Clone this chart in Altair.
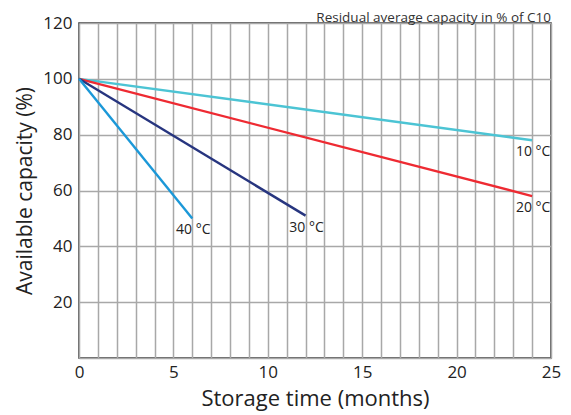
import altair as alt
import pandas as pd

series = ["10 °C", "20 °C", "30 °C", "40 °C"]
start_month = [0, 0, 0, 0]
end_month = [24, 24, 12, 6]
start_cap = [100, 100, 100, 100]
end_cap = [78, 58, 51, 50]
colors = ["#4cc4d4", "#ee2a32", "#27357f", "#1b98d8"]
x_ticks = list(range(0, 26))
y_ticks = [0, 20, 40, 60, 80, 100, 120]

rows = []
for s, m0, m1, c0, c1 in zip(series, start_month, end_month, start_cap, end_cap):
    rows.append({"series": s, "month": m0, "cap": c0})
    rows.append({"series": s, "month": m1, "cap": c1})
df = pd.DataFrame(rows)
ends = pd.DataFrame({"series": series, "month": end_month, "cap": end_cap})

FONT = "Open Sans"

x = alt.X("month:Q", scale=alt.Scale(domain=[0, 25], nice=False),
          axis=alt.Axis(values=x_ticks, labelExpr="datum.value % 5 === 0 ? datum.label : ''",
                        labelOverlap=False, labelBound=False, labelFlush=False,
                        title="Storage time (months)", ticks=False, domain=False,
                        grid=True, gridColor="#a8a8a8", gridWidth=1.5,
                        labelFontSize=17, labelColor="#222", labelPadding=6,
                        titleFontSize=22, titleFontWeight="normal", titleColor="#222",
                        titlePadding=8, labelFont=FONT, titleFont=FONT))
y = alt.Y("cap:Q", scale=alt.Scale(domain=[0, 120], nice=False),
          axis=alt.Axis(values=y_ticks, labelExpr="datum.value === 0 ? '' : datum.label",
                        labelOverlap=False, labelBound=False, labelFlush=False,
                        title="Available capacity (%)", ticks=False, domain=False,
                        grid=True, gridColor="#a8a8a8", gridWidth=1.5,
                        labelFontSize=17, labelColor="#222", labelPadding=7,
                        titleFontSize=21, titleFontWeight="normal", titleColor="#222",
                        titlePadding=7, labelFont=FONT, titleFont=FONT))

color = alt.Color("series:N", scale=alt.Scale(domain=series, range=colors), legend=None)

lines = alt.Chart(df).mark_line(strokeWidth=2.4).encode(x=x, y=y, color=color, detail="series:N")

labels = alt.Chart(ends).mark_text(align="center", baseline="middle", dx=1, dy=12,
                                   fontSize=14, font=FONT, color="#222").encode(
    x=x, y=y, text="series:N")

chart = alt.layer(lines, labels).properties(
    width=472, height=335,
    autosize=alt.AutoSizeParams(type="none"),
    padding={"left": 71, "top": 15, "right": 12, "bottom": 57},
    title=alt.TitleParams("Residual average capacity in % of C10", anchor="end",
                          frame="group", fontSize=13.5, fontWeight="normal", font=FONT,
                          color="#333", offset=-10),
).configure_view(stroke="#333", strokeWidth=1.5)

chart.save("out.html", embed_options={"renderer": "svg", "actions": False})
